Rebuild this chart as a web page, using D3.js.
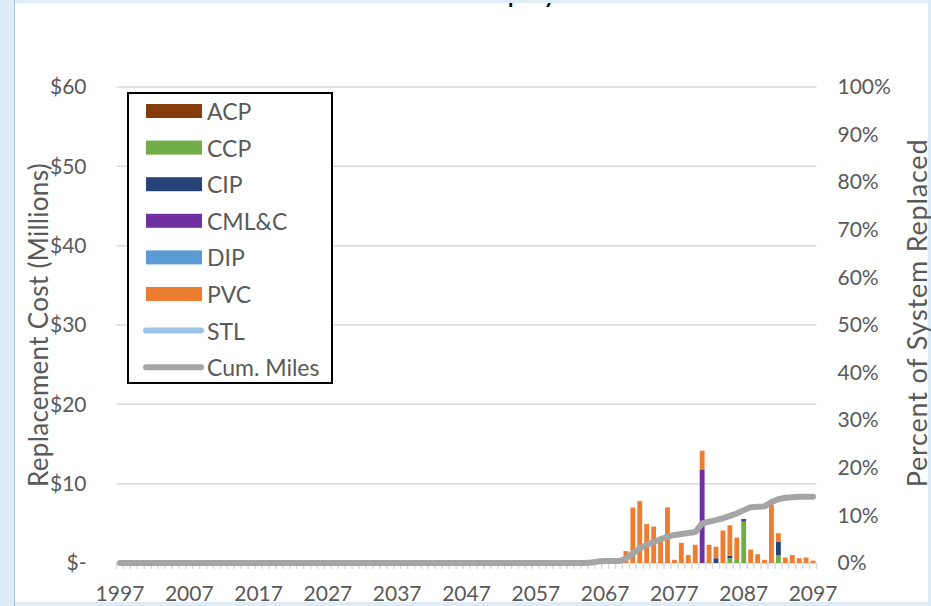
<!DOCTYPE html>
<html>
<head>
<meta charset="utf-8">
<script src="https://cdn.jsdelivr.net/npm/d3@7"></script>
<style>
  html, body { margin: 0; padding: 0; background: #deecf8; }
  svg { display: block; font-family: Lato, "Open Sans", sans-serif; }
</style>
</head>
<body>
<svg id="chart" width="931" height="606"></svg>
<script>
// =========================
// 📦 DATA
// =========================
const firstYear = 1997;
const lastYear = 2097;
const dataStart = 2065; // every series is zero before this year

// replacement cost, $ millions, 2065..2097
const acp   = [0,0,0,0,0, 0,0,0,0,0, 0,0,0,0,0, 0,0,0,0,0, 0,0,0,0,0, 0,0,0,0,0, 0,0,0];
const ccp   = [0,0,0,0,0, 0,0,0,0,0, 0,0,0,0,0, 0,0,0,0,0, 0.6,0.5,5.2,0,0, 0,0,1.0,0,0, 0,0,0];
const cip   = [0,0,0,0,0, 0,0,0,0,0, 0,0,0,0,0, 0,0,0,0.6,0, 0.3,0,0,0,0, 0,0,1.7,0,0, 0,0,0];
const cmlc  = [0,0,0,0,0, 0,0,0,0,0, 0,0,0,0,0, 0,11.8,0,0,0, 0,0,0.35,0,0, 0,0,0,0,0, 0,0,0];
const dip   = [0,0,0,0,0, 0,0,0,0,0, 0,0,0,0,0, 0,0,0,0,0, 0,0,0,0,0, 0,0,0,0,0, 0,0,0];
const pvc   = [0,0.05,0.05,0.05,0.05, 1.5,7.0,7.8,4.9,4.6, 3.3,7.0,0.4,2.55,1.0, 2.3,2.35,2.3,1.45,4.1,
               3.85,2.7,0,1.7,1.1, 0.4,7.4,1.05,0.7,1.0, 0.6,0.7,0.3];
const stl   = []; // no steel replacement in the period

// cumulative share of system replaced, 2065..2097
const cumMiles = [0.001,0.003,0.004,0.004,0.004, 0.009,0.020,0.031,0.038,0.044,
                  0.050,0.055,0.059,0.061,0.063, 0.065,0.083,0.087,0.090,0.094,
                  0.099,0.104,0.111,0.117,0.118, 0.119,0.128,0.134,0.137,0.138,
                  0.139,0.139,0.139];

const costTicks = [0, 10, 20, 30, 40, 50, 60];
const pctTicks = [0, .1, .2, .3, .4, .5, .6, .7, .8, .9, 1];
const yearLabels = [1997, 2007, 2017, 2027, 2037, 2047, 2057, 2067, 2077, 2087, 2097];

const seriesNames = ["ACP", "CCP", "CIP", "CML&C", "DIP", "PVC"];
const seriesValues = [acp, ccp, cip, cmlc, dip, pvc];
const seriesColors = ["#843c0c", "#70ad47", "#264478", "#7030a0", "#5b9bd5", "#ed7d31"];

const chartTitle = "Annual Cost for the Company";

// =========================
// 🧱 BUILD TABLE
// =========================
const years = d3.range(firstYear, lastYear + 1);

const valueAt = (arr, year) => {
  const i = year - dataStart;
  return i >= 0 && i < arr.length ? arr[i] : 0;
};

const table = years.map(year => {
  const row = { year };
  seriesNames.forEach((n, i) => { row[n] = valueAt(seriesValues[i], year); });
  row.cum = valueAt(cumMiles, year);
  return row;
});

// =========================
// 📐 SCALES
// =========================
const svg = d3.select("#chart");
const plot = { left: 116.5, right: 816.5, top: 87, bottom: 563 };

const pad = 0.3;
const x = d3.scaleBand()
  .domain(years)
  .range([plot.left, plot.right])
  .paddingInner(pad)
  .paddingOuter(pad / 2);

const yCost = d3.scaleLinear().domain([0, 60]).range([plot.bottom, plot.top]);
const yPct = d3.scaleLinear().domain([0, 1]).range([plot.bottom, plot.top]);

const textColor = "#595959";
const gridColor = "#d9d9d9";

// =========================
// 🖼️ FRAME
// =========================
svg.append("rect")
  .attr("x", 15).attr("y", 0)
  .attr("width", 913).attr("height", 602)
  .attr("fill", "#fff");

// title sits above the visible area, only the descenders peek through
const title = svg.append("text")
  .attr("x", 0).attr("y", 3)
  .attr("font-size", 22)
  .attr("font-weight", "bold")
  .attr("fill", "#000")
  .text(chartTitle);

const pPos = title.node().getStartPositionOfChar(chartTitle.indexOf("p")).x;
title.attr("x", 508 - pPos);

// top band of the window frame covers the body of the title
svg.append("rect")
  .attr("x", 0).attr("y", 0)
  .attr("width", 931).attr("height", 3)
  .attr("fill", "#deecf8");

svg.append("line")
  .attr("x1", 14.5).attr("x2", 14.5)
  .attr("y1", 0).attr("y2", 606)
  .attr("stroke", "#a9c3d9").attr("stroke-width", 1);

// =========================
// 📏 GRID + AXES
// =========================
svg.append("g")
  .selectAll("line")
  .data(costTicks)
  .join("line")
  .attr("x1", plot.left).attr("x2", plot.right)
  .attr("y1", d => yCost(d)).attr("y2", d => yCost(d))
  .attr("stroke", gridColor)
  .attr("stroke-width", 1.5);

// tick marks between categories
const boundaries = years.map(y => x(y) - x.step() * pad / 2).concat([plot.right]);
svg.append("g")
  .selectAll("line")
  .data(boundaries)
  .join("line")
  .attr("x1", d => d).attr("x2", d => d)
  .attr("y1", plot.bottom).attr("y2", plot.bottom + 6)
  .attr("stroke", gridColor)
  .attr("stroke-width", 1.5);

const styleAxis = g => {
  g.select(".domain").remove();
  g.selectAll("line").remove();
  g.selectAll("text")
    .attr("fill", textColor)
    .attr("font-size", 21)
    .attr("font-family", "Lato, sans-serif");
};

svg.append("g")
  .attr("transform", `translate(${plot.left},0)`)
  .call(d3.axisLeft(yCost)
    .tickValues(costTicks)
    .tickSize(0)
    .tickPadding(30)
    .tickFormat(d => d === 0 ? "$-" : "$" + d))
  .call(styleAxis);

svg.append("g")
  .attr("transform", `translate(${plot.right},0)`)
  .call(d3.axisRight(yPct)
    .tickValues(pctTicks)
    .tickSize(0)
    .tickPadding(21)
    .tickFormat(d3.format(".0%")))
  .call(styleAxis);

svg.append("g")
  .attr("transform", `translate(0,${plot.bottom})`)
  .call(d3.axisBottom(x)
    .tickValues(yearLabels)
    .tickSize(0)
    .tickPadding(23))
  .call(styleAxis);

// axis titles
svg.append("text")
  .attr("transform", `translate(38,${(plot.top + plot.bottom) / 2}) rotate(-90)`)
  .attr("text-anchor", "middle")
  .attr("dominant-baseline", "central")
  .attr("font-size", 26)
  .attr("letter-spacing", 0.3)
  .attr("fill", textColor)
  .text("Replacement Cost (Millions)");

svg.append("text")
  .attr("transform", `translate(916,313) rotate(-90)`)
  .attr("text-anchor", "middle")
  .attr("dominant-baseline", "central")
  .attr("font-size", 27)
  .attr("letter-spacing", 0.8)
  .attr("fill", textColor)
  .text("Percent of System Replaced");

// =========================
// 📊 STACKED BARS
// =========================
const stack = d3.stack().keys(seriesNames)(table);

svg.append("g")
  .selectAll("g")
  .data(stack)
  .join("g")
  .attr("fill", (d, i) => seriesColors[i])
  .selectAll("rect")
  .data(d => d.filter(p => p[1] - p[0] > 0))
  .join("rect")
  .attr("x", d => x(d.data.year))
  .attr("width", x.bandwidth())
  .attr("y", d => yCost(d[1]))
  .attr("height", d => yCost(d[0]) - yCost(d[1]));

// =========================
// 📈 LINES
// =========================
svg.append("path")
  .datum(stl)
  .attr("fill", "none")
  .attr("stroke", "#9dc3e6")
  .attr("stroke-width", 6)
  .attr("d", d3.line().x((d, i) => x(firstYear + i) + x.bandwidth() / 2).y(d => yCost(d)));

svg.append("path")
  .datum(table)
  .attr("fill", "none")
  .attr("stroke", "#a5a5a5")
  .attr("stroke-width", 6)
  .attr("stroke-linecap", "round")
  .attr("stroke-linejoin", "round")
  .attr("d", d3.line()
    .x(d => x(d.year) + x.bandwidth() / 2)
    .y(d => yPct(d.cum)));

// =========================
// 🏷️ LEGEND
// =========================
const legendItems = seriesNames.map((n, i) => ({ name: n, color: seriesColors[i], type: "bar" }))
  .concat([
    { name: "STL", color: "#9dc3e6", type: "line" },
    { name: "Cum. Miles", color: "#a5a5a5", type: "line" }
  ]);

const legend = svg.append("g");

legend.append("rect")
  .attr("x", 128).attr("y", 93)
  .attr("width", 204).attr("height", 290)
  .attr("fill", "#fff")
  .attr("stroke", "#000")
  .attr("stroke-width", 2);

const rowH = 36.6;
const item = legend.selectAll("g.item")
  .data(legendItems)
  .join("g")
  .attr("class", "item")
  .attr("transform", (d, i) => `translate(0,${111 + i * rowH})`);

item.filter(d => d.type === "bar")
  .append("rect")
  .attr("x", 146).attr("y", -7)
  .attr("width", 56).attr("height", 14)
  .attr("fill", d => d.color);

item.filter(d => d.type === "line")
  .append("line")
  .attr("x1", 146).attr("x2", 201)
  .attr("stroke", d => d.color)
  .attr("stroke-width", 6)
  .attr("stroke-linecap", "round");

item.append("text")
  .attr("x", 207)
  .attr("dominant-baseline", "central")
  .attr("font-size", 23)
  .attr("fill", textColor)
  .text(d => d.name);
</script>
</body>
</html>
